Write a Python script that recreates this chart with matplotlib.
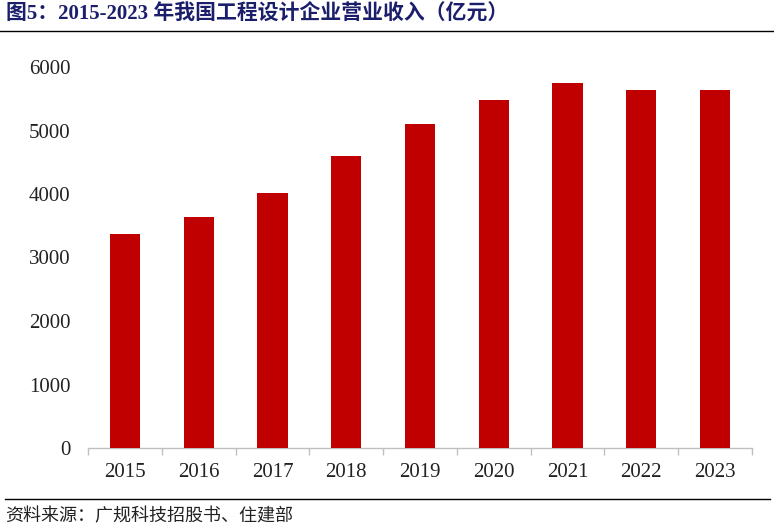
import matplotlib
matplotlib.use("Agg")
import matplotlib.pyplot as plt
import numpy as np
from matplotlib.lines import Line2D

years = ["2015", "2016", "2017", "2018", "2019", "2020", "2021", "2022", "2023"]
revenue = [3370, 3635, 4020, 4605, 5105, 5485, 5755, 5645, 5645]
yticks = [0, 1000, 2000, 3000, 4000, 5000, 6000]

title = "图5：2015-2023 年我国工程设计企业营业收入（亿元）"
source = "资料来源：广规科技招股书、住建部"

fig = plt.figure(figsize=(7.74, 5.30), dpi=100)
W, H = 774, 530
ax = fig.add_axes([88 / W, (H - 448) / H, (752 - 88) / W, (448 - 67) / H])

x = np.arange(len(years))
ax.bar(x, revenue, width=0.41, color="#C00000", zorder=3)

ax.set_xlim(-0.5, len(years) - 0.5)
ax.set_ylim(0, 6000)
ax.set_yticks(yticks)
ax.set_yticklabels([str(v) for v in yticks], fontfamily="Liberation Serif", fontsize=15, color="#222222")
ax.set_xticks(x)
ax.set_xticklabels(years, fontfamily="Liberation Serif", fontsize=15, color="#222222")
ax.set_xticks(np.arange(-0.5, len(years), 1.0), minor=True)
ax.tick_params(axis="x", which="major", length=0, pad=11)
ax.tick_params(axis="x", which="minor", length=5, color="#BFBFBF", width=1)
ax.tick_params(axis="y", length=0, pad=12.5)
for s in ["left", "right", "top"]:
    ax.spines[s].set_visible(False)
ax.spines["bottom"].set_color("#BFBFBF")
ax.spines["bottom"].set_linewidth(1)

fig.text(6 / W, 1 - 15 / H, title, fontsize=15, fontweight="bold",
         color="#1B1F6B", va="center", ha="left",
         fontfamily=["Liberation Serif", "Noto Sans CJK SC"])
fig.add_artist(Line2D([0, 1], [1 - 31 / H, 1 - 31 / H], color="black", lw=1, transform=fig.transFigure))
fig.add_artist(Line2D([5 / W, 770 / W], [1 - 499 / H, 1 - 499 / H], color="black", lw=1, transform=fig.transFigure))
fig.text(5 / W, 1 - 516 / H, source, fontsize=13, color="#222222", va="center", ha="left",
         fontfamily=["Noto Sans CJK SC", "DejaVu Sans"])

fig.savefig("out.png", dpi=100)
